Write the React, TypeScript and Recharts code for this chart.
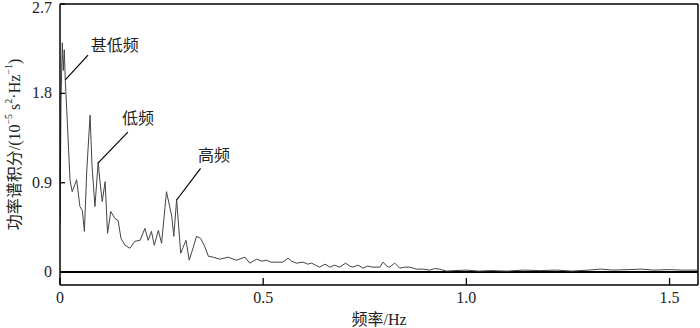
import React from 'react';
import { LineChart, Line, XAxis, YAxis, ReferenceLine, ReferenceDot, Label } from 'recharts';

// frequency (Hz) and integrated power spectrum (10^-5 s^2 Hz^-1)
const freq = [
  0, 0.0025, 0.0057, 0.0081, 0.0106, 0.013, 0.0184, 0.0246, 0.03, 0.041,
  0.049, 0.055, 0.06, 0.066, 0.074, 0.0787, 0.086, 0.094, 0.098, 0.104,
  0.111, 0.117, 0.125, 0.135, 0.143, 0.15, 0.16, 0.172, 0.184, 0.197,
  0.209, 0.217, 0.225, 0.232, 0.242, 0.25, 0.262, 0.275, 0.28, 0.287,
  0.297, 0.303, 0.31, 0.318, 0.328, 0.336, 0.346, 0.357, 0.365, 0.377,
  0.393, 0.414, 0.434, 0.455, 0.467, 0.484, 0.497, 0.508, 0.519, 0.533,
  0.548, 0.561, 0.57, 0.582, 0.598, 0.61, 0.619, 0.629, 0.639, 0.652,
  0.664, 0.676, 0.688, 0.703, 0.713, 0.721, 0.733, 0.746, 0.757, 0.77,
  0.787, 0.795, 0.804, 0.811, 0.824, 0.836, 0.848, 0.861, 0.877, 0.893,
  0.91, 0.922, 0.934, 0.951, 0.97, 1.0, 1.03, 1.06, 1.1, 1.14,
  1.18, 1.22, 1.26, 1.3, 1.33, 1.36, 1.4, 1.43, 1.46, 1.5,
  1.53, 1.57,
];
const power = [
  0.49, 1.73, 2.31, 2.03, 2.24, 1.93, 1.48, 0.93, 0.81, 0.93,
  0.66, 0.62, 0.41, 1.03, 1.58, 1.08, 0.66, 1.11, 0.93, 0.71,
  0.91, 0.39, 0.61, 0.54, 0.52, 0.34, 0.27, 0.24, 0.31, 0.32,
  0.44, 0.32, 0.41, 0.27, 0.42, 0.29, 0.81, 0.56, 0.36, 0.73,
  0.19, 0.25, 0.32, 0.12, 0.25, 0.36, 0.34, 0.25, 0.16, 0.15,
  0.13, 0.15, 0.12, 0.15, 0.09, 0.13, 0.11, 0.12, 0.1, 0.1,
  0.1, 0.14, 0.11, 0.09, 0.1, 0.08, 0.09, 0.07, 0.05, 0.08,
  0.05, 0.07, 0.05, 0.09, 0.06, 0.05, 0.07, 0.04, 0.06, 0.05,
  0.05, 0.1, 0.06, 0.05, 0.09, 0.04, 0.05, 0.05, 0.03, 0.03,
  0.02, 0.035, 0.03, 0.01, 0.015, 0.02, 0.01, 0.015, 0.01, 0.02,
  0.015, 0.02, 0.01, 0.02, 0.03, 0.02, 0.025, 0.03, 0.02, 0.025,
  0.02, 0.02,
];

const xTicks = [0, 0.5, 1.0, 1.5];
const xTickLabels = ['0', '0.5', '1.0', '1.5'];
const yTicks = [0, 0.9, 1.8, 2.7];
const yTickLabels = ['0', '0.9', '1.8', '2.7'];

// annotations: peak point, end of leader line, text anchor
const noteText = ['甚低频', '低频', '高频'];
const notePeakF = [0.013, 0.094, 0.287];
const notePeakV = [1.935, 1.1, 0.726];
const noteEndF = [0.069, 0.167, 0.346];
const noteEndV = [2.185, 1.41, 1.045];
const noteTextF = [0.135, 0.192, 0.379];
const noteTextV = [2.227, 1.49, 1.12];

const data = freq.map((f, i) => ({ f, v: power[i] }));

const serif = "'Liberation Serif', 'Times New Roman', 'Noto Sans CJK SC', serif";

const XTick = (props: any) => {
  const { x, y, payload } = props;
  const i = xTicks.indexOf(payload.value);
  return (
    <g>
      <line x1={x} x2={x} y1={y} y2={y - 7} stroke="#000" strokeWidth={1.3} />
      <text x={x} y={y + 18} textAnchor="middle" fontSize={16} fontFamily={serif} fill="#222">
        {xTickLabels[i]}
      </text>
    </g>
  );
};

const YTick = (props: any) => {
  const { x, y, payload } = props;
  const i = yTicks.indexOf(payload.value);
  // keep the top label inside the picture
  const ty = Math.max(y + 5, 13);
  return (
    <g>
      <line x1={x} x2={x + 5} y1={y} y2={y} stroke="#000" strokeWidth={1.3} />
      <text x={x - 8} y={ty} textAnchor="end" fontSize={16} fontFamily={serif} fill="#222">
        {yTickLabels[i]}
      </text>
    </g>
  );
};

const YTitle = (props: any) => {
  const { viewBox } = props;
  const cx = 14;
  const cy = viewBox.y + viewBox.height / 2;
  return (
    <text
      x={cx}
      y={cy}
      transform={`rotate(-90 ${cx} ${cy})`}
      textAnchor="middle"
      dominantBaseline="central"
      fontSize={16}
      fontFamily={serif}
      fill="#222"
    >
      功率谱积分/(10
      <tspan dy={-6} fontSize={10}>−5</tspan>
      <tspan dy={6}> s</tspan>
      <tspan dy={-6} fontSize={10}>2</tspan>
      <tspan dy={6}>·Hz</tspan>
      <tspan dy={-6} fontSize={10}>−1</tspan>
      <tspan dy={6}>)</tspan>
    </text>
  );
};

const XTitle = (props: any) => {
  const { viewBox } = props;
  return (
    <text
      x={viewBox.x + viewBox.width / 2}
      y={viewBox.y + 40}
      textAnchor="middle"
      fontSize={16}
      fontFamily={serif}
      fill="#222"
    >
      频率/Hz
    </text>
  );
};

export default function App() {
  return (
    <div style={{ position: 'absolute', left: 0, top: 0, background: '#fff' }}>
      <LineChart width={700} height={328} data={data} margin={{ top: 4, right: 2, bottom: 0, left: 0 }}>
        <XAxis
          dataKey="f"
          type="number"
          domain={[0, 1.57]}
          ticks={xTicks}
          allowDataOverflow
          height={43}
          tickSize={0}
          tickMargin={0}
          tick={<XTick />}
          axisLine={{ stroke: '#000', strokeWidth: 1.5 }}
          interval={0}
        >
          <Label content={<XTitle />} />
        </XAxis>
        <YAxis
          type="number"
          domain={[-0.13, 2.7]}
          ticks={yTicks}
          allowDataOverflow
          width={60}
          tickSize={0}
          tickMargin={0}
          tick={<YTick />}
          axisLine={{ stroke: '#000', strokeWidth: 1.5 }}
          interval={0}
        >
          <Label content={<YTitle />} />
        </YAxis>
        <ReferenceLine y={2.7} stroke="#000" strokeWidth={1.5} />
        <ReferenceLine x={1.57} stroke="#000" strokeWidth={1.5} />
        <ReferenceLine y={0} stroke="#000" strokeWidth={2} />
        <Line
          type="linear"
          dataKey="v"
          stroke="#444"
          strokeWidth={1}
          dot={false}
          activeDot={false}
          isAnimationActive={false}
        />
        {noteText.map((t, i) => (
          <ReferenceLine
            key={'l' + i}
            segment={[
              { x: notePeakF[i], y: notePeakV[i] },
              { x: noteEndF[i], y: noteEndV[i] },
            ]}
            stroke="#000"
            strokeWidth={1.2}
          />
        ))}
        {noteText.map((t, i) => (
          <ReferenceDot
            key={'t' + i}
            x={noteTextF[i]}
            y={noteTextV[i]}
            r={0}
            shape={(p: any) => (
              <text x={p.cx} y={p.cy} textAnchor="middle" fontSize={16} fontFamily={serif} fill="#222">
                {t}
              </text>
            )}
          />
        ))}
      </LineChart>
    </div>
  );
}
